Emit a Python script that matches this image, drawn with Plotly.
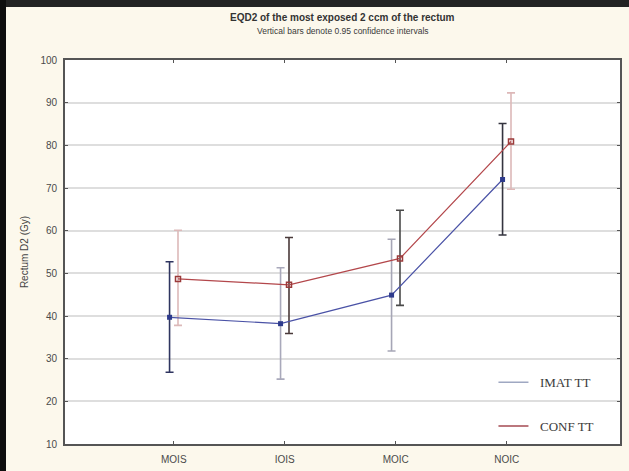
import plotly.graph_objects as go

# Rectum D2 (EQD2, Gy) per group: means with 95% confidence limits
categories = ["MOIS", "IOIS", "MOIC", "NOIC"]

imat_mean = [39.7, 38.2, 44.9, 72.0]
imat_lo = [26.8, 25.2, 31.8, 59.0]
imat_hi = [52.7, 51.3, 58.0, 85.1]

conf_mean = [48.7, 47.3, 53.5, 80.9]
conf_lo = [37.8, 35.9, 42.5, 69.7]
conf_hi = [60.1, 58.4, 64.8, 92.3]

y_ticks = [10, 20, 30, 40, 50, 60, 70, 80, 90, 100]

# styling
imat_line = "#4a52a6"
conf_line = "#b3474b"
imat_bar_colors = ["#2f3560", "#a9a9bb", "#a6a6b6", "#34343f"]
conf_bar_colors = ["#dcb9b9", "#4a3a3a", "#4a4a4a", "#ddb8b8"]
dodge = 0.038

idx = list(range(len(categories)))
x_imat = [i - dodge for i in idx]
x_conf = [i + dodge for i in idx]

fig = go.Figure()

# confidence-interval whiskers, one trace per point so each gets its own shade
for i in idx:
    fig.add_trace(go.Scatter(
        x=[x_imat[i]], y=[imat_mean[i]], mode="markers",
        marker=dict(size=1, opacity=0), showlegend=False, hoverinfo="skip",
        error_y=dict(type="data", symmetric=False,
                     array=[imat_hi[i] - imat_mean[i]],
                     arrayminus=[imat_mean[i] - imat_lo[i]],
                     color=imat_bar_colors[i], thickness=1.6, width=4),
    ))
    fig.add_trace(go.Scatter(
        x=[x_conf[i]], y=[conf_mean[i]], mode="markers",
        marker=dict(size=1, opacity=0), showlegend=False, hoverinfo="skip",
        error_y=dict(type="data", symmetric=False,
                     array=[conf_hi[i] - conf_mean[i]],
                     arrayminus=[conf_mean[i] - conf_lo[i]],
                     color=conf_bar_colors[i], thickness=1.6, width=4),
    ))

# mean lines
fig.add_trace(go.Scatter(
    x=x_imat, y=imat_mean, mode="lines+markers", showlegend=False,
    line=dict(color=imat_line, width=1.2),
    marker=dict(symbol="square", size=5, color="#2d3a8c"),
))
fig.add_trace(go.Scatter(
    x=x_conf, y=conf_mean, mode="lines+markers", showlegend=False,
    line=dict(color=conf_line, width=1.2),
    marker=dict(symbol="square-open", size=5, color="#9a3a3a", line=dict(width=1.5)),
))

# legend entries
NBSP = "\u00a0"
fig.add_trace(go.Scatter(x=[None], y=[None], mode="lines", name=NBSP * 2 + "IMAT TT",
                         legendgroup="a", line=dict(color="#9fa8c2", width=1.5)))
fig.add_trace(go.Scatter(x=[None], y=[None], mode="lines", name=NBSP * 2 + "CONF TT",
                         legendgroup="b", line=dict(color="#a54a52", width=1.5)))

axis_line = "#555555"
tick_font = dict(family="Liberation Sans, Arial, sans-serif", size=10, color="#4a4a4a")

fig.update_layout(
    width=629, height=471,
    margin=dict(l=65, r=9, t=60, b=27),
    paper_bgcolor="#fcf8ec",
    plot_bgcolor="#ffffff",
    showlegend=True,
    legend=dict(
        x=0.772, y=0.2, xanchor="left", yanchor="top",
        bgcolor="rgba(0,0,0,0)", tracegroupgap=24,
        font=dict(family="Liberation Serif, Times New Roman, serif", size=13, color="#3a3a3a"),
    ),
    annotations=[
        dict(text="<b>EQD2 of the most exposed 2 ccm of the rectum</b>",
             xref="paper", yref="paper", x=0.5, y=1.0, yshift=43,
             xanchor="center", yanchor="middle", showarrow=False,
             font=dict(family="Liberation Sans, Arial, sans-serif", size=10, color="#333333")),
        dict(text="Vertical bars denote 0.95 confidence intervals",
             xref="paper", yref="paper", x=0.5, y=1.0, yshift=29,
             xanchor="center", yanchor="middle", showarrow=False,
             font=dict(family="Liberation Sans, Arial, sans-serif", size=8.5, color="#3a3a3a")),
    ],
    shapes=[
        # dark surround at the top and left edges of the slide
        dict(type="rect", xref="paper", yref="paper",
             x0=-0.2, x1=1.1, y0=(444 - 7) / 384, y1=1.3,
             fillcolor="#232323", line=dict(width=0), layer="below"),
        dict(type="rect", xref="paper", yref="paper",
             x0=-0.2, x1=(6 - 65) / 555, y0=-0.2, y1=1.3,
             fillcolor="#0e0e0e", line=dict(width=0), layer="below"),
    ],
)

fig.update_xaxes(
    range=[-0.98, 4.02], tickmode="array", tickvals=idx, ticktext=categories,
    showgrid=False, zeroline=False, automargin=False,
    showline=True, linecolor=axis_line, linewidth=1.6, mirror="ticks",
    ticks="inside", ticklen=3, tickcolor=axis_line,
    tickfont=tick_font, ticklabelstandoff=5,
)
fig.update_yaxes(
    range=[10, 100], tickmode="array", tickvals=y_ticks,
    showgrid=True, gridcolor="#dedede", gridwidth=1.5, zeroline=False, automargin=False,
    showline=True, linecolor=axis_line, linewidth=1.6, mirror="ticks",
    ticks="inside", ticklen=3, tickcolor=axis_line,
    tickfont=tick_font, ticklabelstandoff=4,
    title=dict(text="Rectum D2 (Gy)", standoff=10,
               font=dict(family="Liberation Sans, Arial, sans-serif", size=10, color="#444444")),
)

fig.write_html("out.html")
